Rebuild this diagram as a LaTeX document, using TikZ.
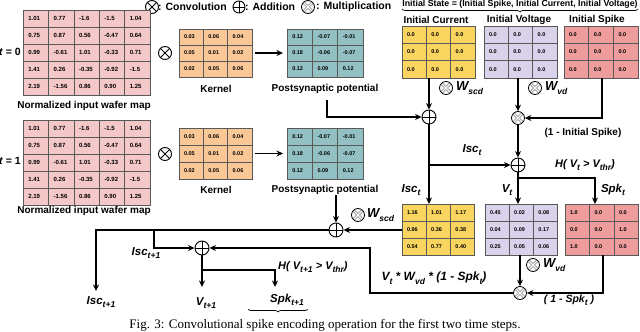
\documentclass[tikz,border=0pt]{standalone}
\usepackage{fontspec}
\setmainfont{Liberation Sans}
\newfontfamily\capfont{Liberation Serif}
\usetikzlibrary{arrows.meta,decorations.pathreplacing,calc}
\definecolor{wafer}{HTML}{F4C7C9}
\definecolor{kern}{HTML}{F9C896}
\definecolor{psp}{HTML}{93C1C3}
\definecolor{cur}{HTML}{F9D45F}
\definecolor{vol}{HTML}{D9D2EA}
\definecolor{spkc}{HTML}{EE9C9C}
\def\cellfs{5.5}
\newcommand\sbs[1]{\raisebox{-0.55ex}{\fontsize{8.5}{8.5}\selectfont #1}}
\newcommand\drawgrid[9]{%
  \foreach \row [count=\r] in {#9} {%
    \foreach \v [count=\c] in \row {%
      \node[cellbox, fill=#8, minimum width=#4pt, minimum height=#5pt] at ({#2+(\c-1)*#4},{#3+(\r-1)*#5}) {};
      \node[celltxt] at ({#2+(\c-0.8)*#4},{#3+(\r-0.5)*#5}) {\v};
    }%
  }%
  \node[inner sep=0, outer sep=0, anchor=north west, minimum width=#6*#4pt, minimum height=#7*#5pt] (#1) at (#2,#3) {};
}
\tikzset{
  cellbox/.style={draw=black!65, line width=0.5pt, inner sep=0, outer sep=0, anchor=north west},
  celltxt/.style={font=\bfseries\fontsize{\cellfs}{\cellfs}\selectfont, anchor=west, inner sep=0},
  lbl/.style={font=\bfseries\fontsize{10}{12}\selectfont, inner sep=1pt},
  var/.style={font=\bfseries\itshape\fontsize{11.5}{13}\selectfont, inner sep=1pt},
  wire/.style={line width=1.4pt},
  conn/.style={line width=1.4pt, -{Stealth[length=6.5pt,width=6pt]}},
  addop/.style={circle, draw, line width=0.9pt, minimum size=14pt, inner sep=0, fill=white,
    path picture={\draw[line width=0.9pt] (path picture bounding box.north) -- (path picture bounding box.south)
      (path picture bounding box.west) -- (path picture bounding box.east);}},
  convop/.style={circle, draw, line width=0.9pt, minimum size=13pt, inner sep=0, fill=white,
    path picture={\draw[line width=0.9pt] (path picture bounding box.north west) -- (path picture bounding box.south east)
      (path picture bounding box.north east) -- (path picture bounding box.south west);}},
  mulop/.style={circle, draw, line width=0.8pt, minimum size=13pt, inner sep=0, fill=white,
    path picture={\draw[line width=0.45pt, double=white, double distance=1.5pt]
      (path picture bounding box.north west) -- (path picture bounding box.south east)
      (path picture bounding box.north east) -- (path picture bounding box.south west);}},
}
\begin{document}
\begin{tikzpicture}[x=1pt,y=-1pt]
\useasboundingbox (0,0) rectangle (640,332);
\fill[white] (0,0) rectangle (640,332);

% legend
\node[convop] (lg1) at (152,7) {};
\node[lbl, font=\bfseries\fontsize{10.5}{12}\selectfont, anchor=west, inner sep=0] (lgt1) at (158,7) {: Convolution};
\node[addop, minimum size=12pt] (lg2) at (239,7) {};
\node[lbl, font=\bfseries\fontsize{10.5}{12}\selectfont, anchor=west, inner sep=0] (lgt2) at (245,7) {: Addition};
\node[mulop] (lg3) at (308,7) {};
\node[lbl, font=\bfseries\fontsize{10.5}{12}\selectfont, anchor=west, inner sep=0] (lgt3) at (316,7) {: Multiplication};

% wafer maps
\def\cellfs{6}
\node[lbl, font=\bfseries\fontsize{10.5}{12}\selectfont, anchor=east] (t0) at (22,52) {\textit{t} = 0};
\drawgrid{w0}{23}{10}{25.4}{17}{5}{5}{wafer}{{1.01,0.77,-1.6,-1.5,1.04},{0.75,0.87,0.56,-0.47,0.64},{0.99,-0.61,1.01,-0.33,0.71},{1.41,0.26,-0.35,-0.92,-1.5},{2.19,-1.56,0.86,0.90,1.25}}
\node[lbl] (w0lab) at (84,106) {Normalized input wafer map};
\node[lbl, font=\bfseries\fontsize{10.5}{12}\selectfont, anchor=east] (t1) at (22,161) {\textit{t} = 1};
\drawgrid{w1}{23}{120}{25.4}{17}{5}{5}{wafer}{{1.01,0.77,-1.6,-1.5,1.04},{0.75,0.87,0.56,-0.47,0.64},{0.99,-0.61,1.01,-0.33,0.71},{1.41,0.26,-0.35,-0.92,-1.5},{2.19,-1.56,0.86,0.90,1.25}}
\node[lbl] (w1lab) at (84,211) {Normalized input wafer map};

% kernels and PSPs
\def\cellfs{5.5}
\node[convop] (cv0) at (165,53) {};
\drawgrid{k0}{179}{29}{24.3}{16}{3}{3}{kern}{{0.03,0.06,0.04},{0.05,0.01,0.02},{0.02,0.05,0.06}}
\node[lbl] (k0lab) at (216,89) {Kernel};
\drawgrid{ps0}{287}{29}{25.3}{16}{3}{3}{psp}{{0.12,-0.07,-0.01},{0.18,-0.06,-0.07},{0.12,0.09,0.12}}
\node[lbl] (ps0lab) at (325,89) {Postsynaptic potential};
\draw[conn, shorten <=3pt, shorten >=4pt] (k0) -- (ps0);

\node[convop] (cv1) at (165,154) {};
\drawgrid{k1}{179}{128}{24.3}{17}{3}{3}{kern}{{0.03,0.06,0.04},{0.05,0.01,0.02},{0.02,0.05,0.06}}
\node[lbl] (k1lab) at (216,190) {Kernel};
\drawgrid{ps1}{287}{128}{25.3}{17}{3}{3}{psp}{{0.12,-0.07,-0.01},{0.18,-0.06,-0.07},{0.12,0.09,0.12}}
\node[lbl] (ps1lab) at (325,190) {Postsynaptic potential};
\draw[conn, shorten <=3pt, shorten >=4pt] (k1) -- (ps1);

% initial state
\node[lbl, font=\bfseries\fontsize{8.8}{10}\selectfont, inner sep=0] (istate) at (520,4) {Initial State = (Initial Spike, Initial Current, Initial Voltage)};
\draw[decorate, decoration={brace, mirror, amplitude=3pt}, line width=0.7pt] (402,9) -- (638,9);
\node[lbl] (iclab) at (436,20) {Initial Current};
\node[lbl] (ivlab) at (519,20) {Initial Voltage};
\node[lbl] (islab) at (597,20) {Initial Spike};
\drawgrid{icur}{402}{26}{24.3}{17.3}{3}{3}{cur}{{0.0,0.0,0.0},{0.0,0.0,0.0},{0.0,0.0,0.0}}
\drawgrid{ivol}{484}{26}{24.3}{17.3}{3}{3}{vol}{{0.0,0.0,0.0},{0.0,0.0,0.0},{0.0,0.0,0.0}}
\drawgrid{ispk}{564}{26}{24.7}{17.3}{3}{3}{spkc}{{0.0,0.0,0.0},{0.0,0.0,0.0},{0.0,0.0,0.0}}

% outputs at t
\drawgrid{isc}{402}{204}{24.2}{17}{3}{3}{cur}{{1.16,1.01,1.17},{0.96,0.36,0.38},{0.54,0.77,0.40}}
\drawgrid{vt}{485}{204}{24.2}{17}{3}{3}{vol}{{0.45,0.02,0.08},{0.04,0.09,0.17},{0.25,0.05,0.06}}
\drawgrid{spk}{565}{204}{24.5}{17}{3}{3}{spkc}{{1.0,0.0,0.0},{0.0,0.0,1.0},{1.0,0.0,0.0}}

% operators
\node[addop] (add1) at (429,117) {};
\node[mulop] (mul1) at (518,118) {};
\node[addop] (add2) at (518,165) {};
\node[addop] (add3) at (336,230) {};
\node[mulop] (mul2) at (520,293) {};
\node[addop] (add4) at (202,248) {};

% weight labels
\node[mulop] (wm1) at (446,88) {};
\node[var, font=\bfseries\itshape\fontsize{13}{14}\selectfont, anchor=west] (wl1) at (455,88) {W\sbs{scd}};
\node[mulop] (wm2) at (535,88) {};
\node[var, font=\bfseries\itshape\fontsize{13}{14}\selectfont, anchor=west] (wl2) at (544,88) {W\sbs{vd}};
\node[mulop] (wm3) at (358,215) {};
\node[var, font=\bfseries\itshape\fontsize{13}{14}\selectfont, anchor=west, inner sep=0] (wl3) at (367,215) {W\sbs{scd}};
\node[mulop] (wm4) at (533,265) {};
\node[var, font=\bfseries\itshape\fontsize{13}{14}\selectfont, anchor=west] (wl4) at (542,265) {W\sbs{vd}};

% connectors t=0
\coordinate (p0) at (327,100);
\draw[conn] (p0) |- (add1);
\draw[conn] (icur.south -| add1) -- (add1);
\draw[conn] (ivol.south -| mul1) -- (mul1);
\coordinate (isout) at (602,78);
\draw[conn] (isout) |- (mul1);
\node[lbl] (oneminus) at (583,133) {(1 - Initial Spike)};
\draw[conn] (mul1) -- (add2);
\draw[conn] (add1) -- (isc.north -| add1);
\coordinate (br1) at (429,165);
\draw[conn] (br1) -- (add2);
\draw[conn] (add2) -- (vt.north -| add2);
\coordinate (hv) at (518,178);
\coordinate (spkin) at (595,204);
\draw[conn] (hv) -| (spkin);
\node[var] (lisc1) at (472,150) {Isc\sbs{t}};
\node[var] (lisc2) at (411,190) {Isc\sbs{t}};
\node[var] (lvt) at (507,190) {V\sbs{t}};
\node[var] (lspk) at (613,190) {Spk\sbs{t}};
\node[var, font=\bfseries\itshape\fontsize{11}{13}\selectfont] (lh1) at (585,165) {H( V\sbs{t} > V\sbs{thr})};

% connectors t=1
\draw[conn] (isc.west |- add3) -- (add3);
\coordinate (p1) at (336,195);
\draw[conn] (p1) -- (add3);
\coordinate (c1) at (96,230);
\coordinate (iscout) at (96,291);
\draw[conn] (add3) -- (c1) -- (iscout);
\coordinate (c2) at (154,230);
\draw[conn] (c2) |- (add4);
\draw[conn] (vt.south -| mul2) -- (mul2);
\coordinate (spkout) at (603,255);
\draw[conn] (spkout) |- (mul2);
\node[var, font=\bfseries\itshape\fontsize{10.5}{12}\selectfont] (lone) at (569,300) {( 1 - Spk\sbs{t} )};
\coordinate (c3) at (370,293);
\coordinate (c4) at (370,248);
\draw[conn] (mul2) -- (c3) -- (c4) -- (add4);
\node[var, font=\bfseries\itshape\fontsize{12}{14}\selectfont] (lprod) at (434,278) {V\sbs{t} * W\sbs{vd} * (1 - Spk\sbs{t})};
\coordinate (vout) at (202,287);
\draw[conn] (add4) -- (vout);
\coordinate (c5) at (202,270);
\coordinate (spkout2) at (275,287);
\draw[conn] (c5) -| (spkout2);
\node[var] (lisc3) at (146,253) {Isc\sbs{t+1}};
\node[var] (lisc4) at (101,302) {Isc\sbs{t+1}};
\node[var] (lv1) at (206,303) {V\sbs{t+1}};
\node[var] (lspk1) at (287,300) {Spk\sbs{t+1}};
\node[var, font=\bfseries\itshape\fontsize{11}{13}\selectfont, anchor=west] (lh2) at (277,267) {H( V\sbs{t+1} > V\sbs{thr})};
\draw[decorate, decoration={brace, mirror, amplitude=3pt}, line width=0.7pt] (248,309) -- (308,309);

% caption
\node[font=\capfont\fontsize{13}{13}\selectfont, anchor=base, inner sep=0] (cap) at (325,328.5) {Fig. 3: Convolutional spike encoding operation for the first two time steps.};
\end{tikzpicture}
\end{document}
